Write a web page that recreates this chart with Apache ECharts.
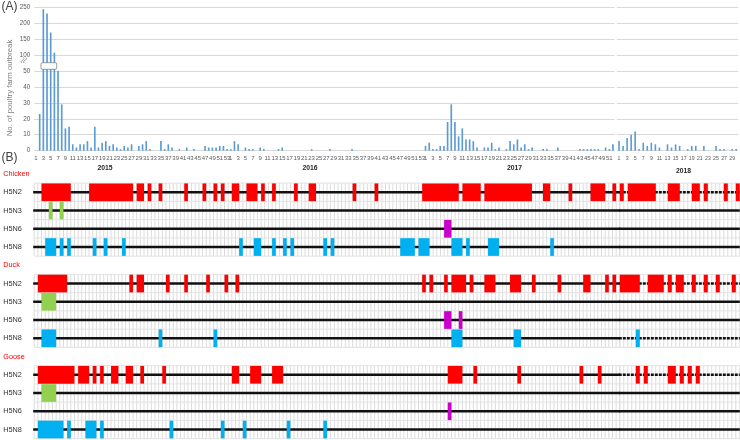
<!DOCTYPE html>
<html><head><meta charset="utf-8">
<script src="https://cdn.jsdelivr.net/npm/echarts@6/dist/echarts.min.js"></script>
<style>html,body{margin:0;padding:0;background:#fff}#c{width:740px;height:440px}</style>
</head><body><div id="c"></div>
<script>
// ---------- Panel A: weekly number of poultry farm outbreaks ----------
const weeks2015 = [0,23,243,230,170,107,50,29,14,15, 4,2,4,4,6,2,15,2,5,6, 3,4,2,1,3,2,4,0,3,4, 6,1,0,0,6,1,4,2,0,1, 0,2,0,1,0,0,3,2,2,2, 3,3,1];
const weeks2016 = [1,6,4,0,2,1,1,0,2,1, 0,0,0,1,2,0,0,0,0,0, 0,0,1,0,0,0,0,1,0,0, 0,0,0,1,0,0,0,0,0,0, 0,0,0,0,0,0,0,0,0,0, 0,0,0];
const weeks2017 = [3,5,1,1,3,3,18,29,18,9, 14,7,7,6,2,0,2,2,5,1, 2,0,1,6,4,7,2,4,1,2, 0,0,1,1,0,0,2,0,0,0, 0,0,1,1,1,1,1,1,0,2, 1,4];
const weeks2018 = [6,3,8,10,12,1,5,3,5,4, 2,0,4,2,4,3,0,1,3,3, 0,3,0,0,3,1,1,0,1,1];
const yTickLabels = ['0','10','20','30','40','50','100','150','200','250'];
const yearLabels = ['2015','2016','2017','2018'];

// ---------- Panel B: detection periods (week cells) ----------
const rowLabels = ['Chicken','H5N2','H5N3','H5N6','H5N8','Duck','H5N2','H5N3','H5N6','H5N8','Goose','H5N2','H5N3','H5N6','H5N8'];
// 2015-2017 part (cell index from 2015 week 1)
const chickenH5N2 = [[2,9],[15,26],[28,29],[31,31],[34,34],[41,41],[46,46],[49,49],[51,51],[54,55],[58,60],[62,62],[65,65],[71,71],[75,76],[87,87],[93,93],[106,115],[117,121],[123,135],[139,140],[146,146],[152,155],[158,158]];
const chickenH5N3 = [[4,4],[7,7]];
const chickenH5N6 = [[112,113]];
const chickenH5N8 = [[3,5],[7,7],[9,9],[16,16],[19,19],[24,24],[56,56],[60,61],[65,65],[68,68],[70,70],[79,79],[81,81],[100,103],[105,107],[114,116],[118,118],[124,126],[141,141]];
const duckH5N2 = [[1,8],[26,26],[28,29],[36,36],[41,41],[47,47],[52,52],[55,55],[106,106],[108,108],[112,112],[114,117],[119,119],[123,125],[130,132],[136,136],[143,143],[150,151],[156,156],[158,158]];
const duckH5N3 = [[2,5]];
const duckH5N6 = [[112,113],[116,116]];
const duckH5N8 = [[2,5],[34,34],[49,49],[114,116],[131,132]];
const gooseH5N2 = [[1,10],[12,14],[16,16],[18,18],[21,22],[25,26],[29,29],[35,35],[54,55],[59,61],[65,67],[113,116],[120,120],[132,132],[149,149],[154,154]];
const gooseH5N3 = [[2,5]];
const gooseH5N6 = [[113,113]];
const gooseH5N8 = [[1,7],[9,9],[14,16],[18,18],[37,37],[51,51],[57,57],[69,69],[79,79]];
// 2018 part (cell index from 2018 week 1)
const chickenH5N2_2018 = [[0,0],[2,8],[12,14],[18,19],[21,21],[26,26],[29,29]];
const duckH5N2_2018 = [[0,4],[7,10],[12,12],[14,15],[18,18],[21,21],[24,24],[28,28]];
const duckH5N8_2018 = [[4,4]];
const gooseH5N2_2018 = [[4,4],[6,6],[12,13],[15,15],[17,17],[19,19]];

const rowSlots = [1,2,3,4,6,7,8,9,11,12,13,14];
const rowsMain = [chickenH5N2,chickenH5N3,chickenH5N6,chickenH5N8,duckH5N2,duckH5N3,duckH5N6,duckH5N8,gooseH5N2,gooseH5N3,gooseH5N6,gooseH5N8];
const rows2018 = [chickenH5N2_2018,[],[],[],duckH5N2_2018,[],[],duckH5N8_2018,gooseH5N2_2018,[],[],[]];
const N1 = 160, N2 = 30;

// ---------- build ----------
const brk = v => v <= 50 ? v / 10 : 5 + (v - 50) / 50;
const cats1 = [];
[[2015,weeks2015],[2016,weeks2016],[2017,weeks2017]].forEach(([y,arr]) => arr.forEach((_,i) => cats1.push(y + '|' + (i+1))));
const cats2 = weeks2018.map((_,i) => '2018|' + (i+1));
const vals1 = weeks2015.concat(weeks2016, weeks2017).map(brk);
const vals2 = weeks2018.map(brk);

const colorList = ['#ff0000','#92d050','#cc00cc','#00b0f0'];
const colorIdx = {H5N2:0,H5N3:1,H5N6:2,H5N8:3};
function rectData(rows){
  const out = [];
  rows.forEach((iv, r) => {
    const slot = rowSlots[r];
    iv.forEach(([a,b]) => out.push([a, b, slot, colorIdx[rowLabels[slot]]]));
  });
  return out;
}
function rectItem(params, api){
  const s = api.coord([api.value(0), api.value(2)]);
  const e = api.coord([api.value(1) + 1, api.value(2)]);
  const h = api.size([0,1])[1];
  return {type:'rect', shape:{x:s[0], y:s[1]-h*0.485, width:e[0]-s[0], height:h*0.97}, style:{fill: colorList[api.value(3)]}};
}
function gridRender(N){
  return function(params, api){
    const slot = api.value(1);
    const h = api.size([0,1])[1];
    const top = api.coord([0, slot])[1] - h/2;
    const x0 = api.coord([0, slot])[0], xN = api.coord([N, slot])[0];
    const ch = [];
    for (let i = 0; i <= N; i++){
      const x = api.coord([i, slot])[0];
      ch.push({type:'line', shape:{x1:x,y1:top,x2:x,y2:top+4*h}, style:{stroke:'#dcdcdc', lineWidth:1}});
    }
    for (let r = 0; r <= 4; r++){
      const y = top + r*h;
      ch.push({type:'line', shape:{x1:x0,y1:y,x2:xN,y2:y}, style:{stroke:'#e2e2e2', lineWidth:1}});
    }
    return {type:'group', children:ch};
  };
}
function lineRender(N){
  return function(params, api){
    const a = api.coord([0, api.value(1)]);
    const b = api.coord([N, api.value(1)]);
    return {type:'line', shape:{x1:a[0]-1,y1:a[1],x2:b[0],y2:b[1]},
      style:{stroke:'#111', lineWidth:2.5, lineDash: api.value(2) ? [3,1] : null}};
  };
}
const lineData1 = rowSlots.map(s => [0, s, 0]);
const lineData2 = rowSlots.map((s, r) => [0, s, rows2018[r].length ? 1 : 0]);
const groupData = [[0,1],[0,6],[0,11]];

const FONT = "'Liberation Sans', Arial, sans-serif";
const NARROW = "'Liberation Sans Narrow','Liberation Sans',sans-serif";
const gridTopB = 164.9, gridHB = 273.75;

const option = {
  animation: false,
  textStyle: {fontFamily: FONT},
  grid: [
    {left:34.16, top:7, width:158*3.675, height:143.7},
    {left:617, top:7, width:30*4.04, height:143.7},
    {left:34.2, top:gridTopB, width:N1*3.66, height:gridHB},
    {left:619.8, top:gridTopB, width:N2*4, height:gridHB}
  ],
  xAxis: [
    {type:'category', gridIndex:0, data:cats1, axisLine:{show:false}, axisTick:{show:false},
     axisLabel:{interval:(i,v)=>(+v.split('|')[1])%2===1, formatter:v=>v.split('|')[1], fontSize:6, color:'#595959', margin:5, fontFamily:NARROW}},
    {type:'category', gridIndex:1, data:cats2, axisLine:{show:false}, axisTick:{show:false},
     axisLabel:{interval:(i,v)=>(+v.split('|')[1])%2===1, formatter:v=>v.split('|')[1], fontSize:5.2, color:'#595959', margin:5.5, fontFamily:NARROW}},
    {type:'value', gridIndex:2, min:0, max:N1, show:false},
    {type:'value', gridIndex:3, min:0, max:N2, show:false}
  ],
  yAxis: [
    {type:'value', gridIndex:0, min:0, max:9, interval:1, axisLine:{show:false}, axisTick:{show:false},
     axisLabel:{formatter:v=>yTickLabels[v], fontSize:6.3, color:'#595959', margin:4},
     splitLine:{lineStyle:{color:'#d9d9d9', width:1}}},
    {type:'value', gridIndex:1, min:0, max:9, interval:1, axisLine:{show:false}, axisTick:{show:false},
     axisLabel:{show:false}, splitLine:{lineStyle:{color:'#d9d9d9', width:1}}},
    {type:'category', gridIndex:2, data:rowLabels, inverse:true, axisLine:{show:false}, axisTick:{show:false},
     splitLine:{show:false},
     axisLabel:{align:'left', margin:31, fontSize:7.3, fontFamily:FONT, color:(v,i)=> (i%5===0 ? '#ff0000' : '#333333')}},
    {type:'category', gridIndex:3, data:rowLabels, inverse:true, show:false}
  ],
  series: [
    {type:'bar', xAxisIndex:0, yAxisIndex:0, data:vals1, barWidth:'45%', itemStyle:{color:'#5b9bd5'}},
    {type:'bar', xAxisIndex:1, yAxisIndex:1, data:vals2, barWidth:'40%', itemStyle:{color:'#5b9bd5'}},
    {type:'custom', xAxisIndex:2, yAxisIndex:2, data:groupData, encode:{x:0,y:1}, renderItem:gridRender(N1), z:1, silent:true},
    {type:'custom', xAxisIndex:3, yAxisIndex:3, data:groupData, encode:{x:0,y:1}, renderItem:gridRender(N2), z:1, silent:true},
    {type:'custom', xAxisIndex:2, yAxisIndex:2, data:lineData1, encode:{x:0,y:1}, renderItem:lineRender(N1), z:2, silent:true},
    {type:'custom', xAxisIndex:3, yAxisIndex:3, data:lineData2, encode:{x:0,y:1}, renderItem:lineRender(N2), z:2, silent:true},
    {type:'custom', xAxisIndex:2, yAxisIndex:2, data:rectData(rowsMain), encode:{x:[0,1],y:2}, renderItem:rectItem, z:3},
    {type:'custom', xAxisIndex:3, yAxisIndex:3, data:rectData(rows2018), encode:{x:[0,1],y:2}, renderItem:rectItem, z:3}
  ],
  graphic: [
    {type:'text', x:1.5, y:1, style:{text:'(A)', fontSize:12, fill:'#404040', fontFamily:FONT}},
    {type:'text', x:1.5, y:152, style:{text:'(B)', fontSize:12, fill:'#404040', fontFamily:FONT}},
    {type:'text', x:10, y:88, rotation:Math.PI/2, style:{text:'No. of poultry farm outbreak', x:0, y:0, align:'center', verticalAlign:'middle', fontSize:7.8, fill:'#7f7f7f', fontFamily:FONT}},
    {type:'text', x:105, y:168.5, style:{text:yearLabels[0], align:'center', verticalAlign:'middle', fontSize:6.8, fontWeight:'bold', fill:'#262626', fontFamily:FONT}},
    {type:'text', x:310, y:168.5, style:{text:yearLabels[1], align:'center', verticalAlign:'middle', fontSize:6.8, fontWeight:'bold', fill:'#262626', fontFamily:FONT}},
    {type:'text', x:514.5, y:168.5, style:{text:yearLabels[2], align:'center', verticalAlign:'middle', fontSize:6.8, fontWeight:'bold', fill:'#262626', fontFamily:FONT}},
    {type:'text', x:683.5, y:171.5, style:{text:yearLabels[3], align:'center', verticalAlign:'middle', fontSize:6.8, fontWeight:'bold', fill:'#262626', fontFamily:FONT}},
    {type:'rect', z:100, shape:{x:41, y:62.7, width:15.7, height:6.6, r:1.5}, style:{fill:'#ffffff', stroke:'#808080', lineWidth:0.8}},
    {type:'bezierCurve', z:100, shape:{x1:21.5,y1:63,x2:23.5,y2:57.5,cpx1:19.5,cpy1:60,cpx2:25.5,cpy2:60.5}, style:{stroke:'#8a8a8a', lineWidth:0.8, fill:null}},
    {type:'bezierCurve', z:100, shape:{x1:24,y1:63,x2:26,y2:57.5,cpx1:22,cpy1:60,cpx2:28,cpy2:60.5}, style:{stroke:'#8a8a8a', lineWidth:0.8, fill:null}}
  ]
};
const chart = echarts.init(document.getElementById('c'));
chart.setOption(option);
</script>
</body></html>
